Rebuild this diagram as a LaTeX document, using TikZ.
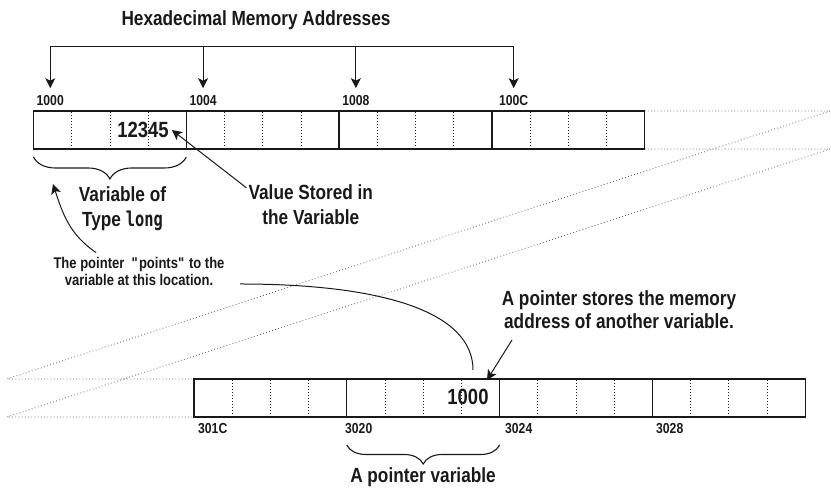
\documentclass[tikz,border=0pt]{standalone}
\usepackage{fontspec}
\setmainfont[FakeStretch=0.84]{Liberation Sans}
\newfontfamily\codefont[FakeStretch=0.75]{DejaVu Sans Mono}
\usetikzlibrary{arrows.meta}
\usetikzlibrary{decorations.pathreplacing}
\usetikzlibrary{calc}

\begin{document}
\begin{tikzpicture}[
    x=1pt, y=1pt,
    black!90,
    cellline/.style  = {line width=1.3pt},
    dots/.style      = {line width=0.8pt, dash pattern=on 0.8pt off 2.2pt},
    farline/.style   = {line width=0.8pt, black!65, dash pattern=on 0.8pt off 2.4pt},
    tip/.style       = {line width=1pt, -{Stealth[length=10pt,width=10pt,inset=2.5pt]}},
    bracket/.style   = {line width=1.1pt, decorate, decoration={brace, mirror, amplitude=#1}},
    addr/.style      = {anchor=base west, inner sep=0pt, font=\bfseries\fontsize{14.5}{16}\selectfont},
    bigtext/.style   = {inner sep=0pt, align=center, font=\bfseries\fontsize{20.5}{25}\selectfont},
    smalltext/.style = {inner sep=0pt, align=center, font=\bfseries\fontsize{15.5}{17}\selectfont},
    numtext/.style   = {inner sep=0pt, font=\bfseries\fontsize{22}{24}\selectfont},
    ]

    % Determines the boundries
    \path[use as bounding box] (0,0) rectangle (831,489);

    \def\cw{38.2}       % width of one byte
    \def\ch{38}         % height of a strip
    \def\xTop{33.5}     % left end of the upper strip
    \def\yTop{340}
    \def\xBot{194}      % left end of the lower strip
    \def\yBot{72}
    \def\xFar{830}      % where the dotted lines turn
    \def\xNear{7}

    % one strip of memory: 4 words of 4 bytes
    \def\memStrip#1#2{
        \foreach \word in {0,...,3}{
            \draw[cellline] (#1+4*\word*\cw,#2) rectangle +(4*\cw,\ch);
            \foreach \byte in {1,2,3}{
                \draw[dots] (#1+4*\word*\cw+\byte*\cw,#2) -- +(0,\ch);
            }
        }
    }

    % The two strips and the dotted lines between them
    \draw[farline] (\xTop+16*\cw,\yTop+\ch) -- (\xFar,\yTop+\ch) -- (\xNear,\yBot+\ch) -- (\xBot,\yBot+\ch);
    \draw[farline] (\xTop+16*\cw,\yTop) -- (\xFar,\yTop) -- (\xNear,\yBot) -- (\xBot,\yBot);
    \memStrip{\xTop}{\yTop}
    \memStrip{\xBot}{\yBot}

    % Addresses of the upper strip
    \node[bigtext, anchor=base] (title) at (256,463) {Hexadecimal Memory Addresses};
    \foreach \name/\txt/\dx [count=\i from 0] in {a0/1000/3, a4/1004/3, a8/1008/3, ac/100C/7}{
        \node[addr] (\name) at (\xTop+4*\i*\cw+\dx,383.5) {\txt};
    }
    \coordinate (bar) at (0,442.3);
    \draw[line width=1.2pt] (a0.north |- bar) -- (ac.north |- bar);
    \foreach \name in {a0,a4,a8,ac}{
        \draw[tip] (\name.north |- bar) -- ([yshift=7pt]\name.north);
    }

    % The long variable
    \node[numtext] (num) at (143,359) {12345};
    \draw[bracket=22pt] (\xTop,332) -- (\xTop+4*\cw,332);
    \node[bigtext] (vartype) at (122.5,280.6) {Variable of\\Type {\codefont\bfseries long}};
    \node[bigtext] (valtext) at (310.8,284) {Value Stored in\\the Variable};
    \draw[tip] ([xshift=-2pt,yshift=-3pt]valtext.north west) -- ([xshift=3pt]num.east);

    % The pointer
    \node[smalltext] (ptrnote) at (139,218) {The pointer\ \ \textquotedbl points\textquotedbl\ to the\\variable at this location.};
    \coordinate (varleft) at (53,305);
    \draw[tip] ([yshift=4pt]$(ptrnote.north west)!0.25!(ptrnote.north east)$) to[out=146, in=-72] (varleft);

    \node[numtext] (ptrval) at (468,92) {1000};
    \coordinate (curvestart) at (240,205);
    \coordinate (curveend) at (473,119);
    \draw[line width=1pt] (curvestart) .. controls (380,205) and (473,178) .. (curveend);

    \node[bigtext, font=\bfseries\fontsize{20.5}{23.5}\selectfont] (storetext) at (619,179.2) {A pointer stores the memory\\address of another variable.};
    \coordinate (storestart) at (512,149);
    \coordinate (storetip) at (487,109);
    \draw[tip] (storestart) -- (storetip);

    % Addresses of the lower strip
    \foreach \txt/\xx in {301C/198, 3020/345, 3024/505, 3028/656}{
        \node[addr] (b\txt) at (\xx,55.7) {\txt};
    }
    \draw[bracket=19pt] (\xBot+4*\cw,44) -- (\xBot+8*\cw,44);
    \node[bigtext, anchor=base] (ptrvar) at (423,6) {A pointer variable};
\end{tikzpicture}
\end{document}
